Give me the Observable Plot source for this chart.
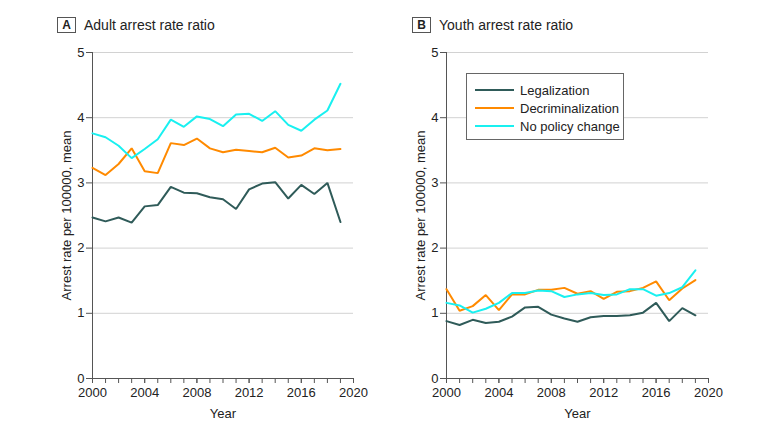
<!DOCTYPE html>
<html><head><meta charset="utf-8">
<script src="https://cdn.jsdelivr.net/npm/d3@7"></script>
<script src="https://cdn.jsdelivr.net/npm/@observablehq/plot@0.6"></script>
<style>
body{margin:0;background:#fff;font-family:"Liberation Sans",Arial,sans-serif;color:#222;}
#wrap{position:relative;width:780px;height:432px;overflow:hidden;background:#fff;}
.panel{position:absolute;top:0;}
.panel svg{background:transparent !important;}
.tag{position:absolute;box-sizing:border-box;width:19px;height:16px;border:1px solid #555;font-weight:bold;font-size:12px;line-height:14px;text-align:center;}
.title{position:absolute;font-size:14px;line-height:16px;white-space:nowrap;}
.legend{position:absolute;box-sizing:border-box;border:1px solid #666;background:#fff;font-size:13px;}
.legend .row{position:absolute;left:8px;height:18px;display:flex;align-items:center;white-space:nowrap;}
.legend .sw{display:inline-block;width:39px;height:0;border-top:2px solid;margin-right:6px;}
</style></head><body><div id="wrap"></div>
<script>
const years = d3.range(2000, 2020);
const seriesNames = ["Legalization", "Decriminalization", "No policy change"];
const seriesColors = ["#2f5b59", "#ff8a00", "#19f0f0"];

const adultLegalization = [2.47,2.41,2.47,2.39,2.64,2.66,2.94,2.85,2.84,2.78,2.75,2.60,2.90,2.99,3.01,2.76,2.97,2.83,3.00,2.40];
const adultDecriminalization = [3.23,3.12,3.29,3.53,3.18,3.15,3.61,3.58,3.68,3.53,3.47,3.51,3.49,3.47,3.54,3.39,3.42,3.53,3.50,3.52];
const adultNoChange = [3.76,3.70,3.57,3.38,3.52,3.67,3.97,3.86,4.02,3.98,3.87,4.05,4.06,3.95,4.10,3.89,3.80,3.97,4.11,4.52];

const youthLegalization = [0.88,0.82,0.90,0.85,0.87,0.95,1.09,1.10,0.98,0.92,0.87,0.94,0.96,0.96,0.97,1.01,1.16,0.88,1.08,0.97];
const youthDecriminalization = [1.37,1.04,1.11,1.28,1.05,1.29,1.29,1.36,1.36,1.39,1.30,1.34,1.22,1.33,1.34,1.39,1.49,1.20,1.38,1.51];
const youthNoChange = [1.16,1.12,1.01,1.07,1.16,1.31,1.31,1.35,1.34,1.25,1.29,1.31,1.28,1.29,1.37,1.37,1.27,1.31,1.40,1.66];

const yTicks = [0,1,2,3,4,5];
const xMajorTicks = [2000,2004,2008,2012,2016,2020];
const xMinorTicks = d3.range(2000, 2021);
const panelTitles = ["Adult arrest rate ratio", "Youth arrest rate ratio"];
const panelTags = ["A", "B"];
const yLabel = "Arrest rate per 100000, mean";
const xLabel = "Year";

function toRows(arrays) {
  const rows = [];
  arrays.forEach((arr, i) => arr.forEach((v, j) => rows.push({year: years[j], value: v, series: seriesNames[i]})));
  return rows;
}

function makePanel(rows, width, ml, mr) {
  return Plot.plot({
    width, height: 432,
    marginLeft: ml, marginRight: mr, marginTop: 52, marginBottom: 54,
    style: {fontFamily: '"Liberation Sans", Arial, sans-serif', fontSize: "13px", color: "#222", background: "transparent"},
    x: {domain: [2000, 2020], axis: null},
    y: {domain: [0, 5], axis: null},
    color: {domain: seriesNames, range: seriesColors},
    marks: [
      Plot.ruleY([1,2,3,4,5], {stroke: "#d2d2d2", strokeWidth: 1}),
      Plot.axisY({ticks: yTicks, tickSize: 6, tickPadding: 2, label: null, stroke: "#555", tickFormat: d => String(d)}),
      Plot.axisX({ticks: xMinorTicks, tickSize: 5, tickFormat: () => "", label: null, stroke: "#555"}),
      Plot.axisX({ticks: xMajorTicks, tickSize: 5, tickPadding: 4, tickFormat: d => String(d), label: null, stroke: "#555"}),
      Plot.ruleX([2000], {stroke: "#555"}),
      Plot.ruleY([0], {stroke: "#555"}),
      Plot.line(rows, {x: "year", y: "value", z: "series", stroke: "series", strokeWidth: 2, strokeLinejoin: "miter"}),
      Plot.text([yLabel], {frameAnchor: "left", textAnchor: "middle", rotate: -90, dx: -26, fontSize: 13, fill: "#222"}),
      Plot.text([xLabel], {frameAnchor: "bottom", textAnchor: "middle", dy: 39, fontSize: 13, fill: "#222"})
    ]
  });
}

const wrap = document.getElementById("wrap");
function addPanel(chart, left) {
  const d = document.createElement("div");
  d.className = "panel"; d.style.left = left + "px";
  d.appendChild(chart); wrap.appendChild(d);
}
addPanel(makePanel(toRows([adultLegalization, adultDecriminalization, adultNoChange]), 370, 92, 17), 0);
addPanel(makePanel(toRows([youthLegalization, youthDecriminalization, youthNoChange]), 410, 76, 72), 370);

const tagPos = [[57, 84], [412, 439]];
panelTags.forEach((t, i) => {
  const tag = document.createElement("div");
  tag.className = "tag"; tag.textContent = t;
  tag.style.left = tagPos[i][0] + "px"; tag.style.top = "17px";
  wrap.appendChild(tag);
  const ti = document.createElement("div");
  ti.className = "title"; ti.textContent = panelTitles[i];
  ti.style.left = tagPos[i][1] + "px"; ti.style.top = "17px";
  wrap.appendChild(ti);
});

const lg = document.createElement("div");
lg.className = "legend";
lg.style.left = "466px"; lg.style.top = "73px"; lg.style.width = "158px"; lg.style.height = "67px";
seriesNames.forEach((s, i) => {
  const r = document.createElement("div");
  r.className = "row"; r.style.top = (7 + i * 18) + "px";
  const sw = document.createElement("span");
  sw.className = "sw"; sw.style.borderTopColor = seriesColors[i];
  r.appendChild(sw);
  r.appendChild(document.createTextNode(s));
  lg.appendChild(r);
});
wrap.appendChild(lg);
</script></body></html>
